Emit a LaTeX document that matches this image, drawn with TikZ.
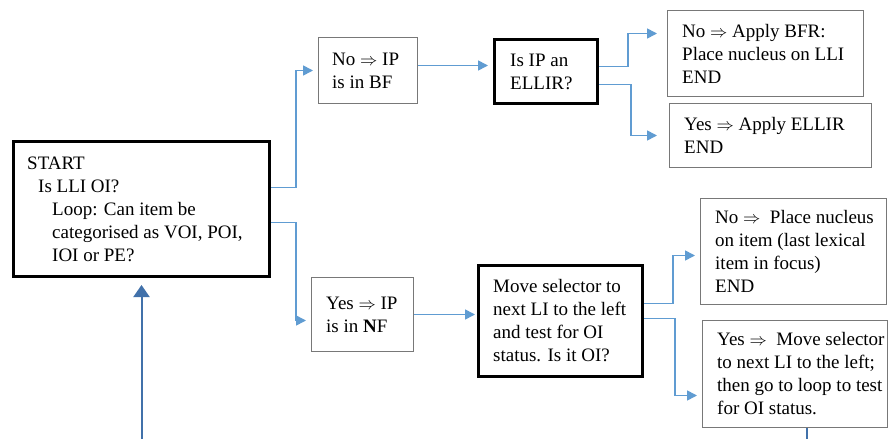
\documentclass[tikz,border=0pt]{standalone}
\usepackage{fontspec}
\setmainfont{LiberationSerif}[Extension=.ttf,UprightFont=*-Regular,BoldFont=*-Bold,ItalicFont=*-Italic,BoldItalicFont=*-BoldItalic]
\usetikzlibrary{arrows.meta}
\definecolor{conncol}{RGB}{96,156,210}
\definecolor{loopcol}{RGB}{65,113,170}
\definecolor{thincol}{RGB}{120,120,120}
\begin{document}
\begin{tikzpicture}[x=1pt,y=-1pt,
  every node/.style={font=\fontsize{19}{23}\selectfont},
  thinbox/.style={draw=thincol,line width=1pt,anchor=north west,inner sep=0pt},
  thickbox/.style={draw=black,line width=3pt,anchor=north west,inner sep=0pt},
  txt/.style={anchor=west,align=left,inner sep=0pt},
  conn/.style={draw=conncol,line width=1.6pt,-{Triangle[width=10pt,length=10pt]},shorten >=5pt},
  loopconn/.style={draw=loopcol,line width=2pt,-{Triangle[width=16pt,length=12pt]},shorten >=7pt}]
\clip (0,0) rectangle (889,439);
\fill[white] (0,0) rectangle (889,439);
% boxes
\node[thickbox,minimum width=256pt,minimum height=135pt] (start) at (12,140) {};
\node[txt] (startt) at ([xshift=15pt]start.west) {START\\\hspace*{11pt}Is LLI OI?\\\hspace*{25pt}Loop: Can item be\\\hspace*{25pt}categorised as VOI, POI,\\\hspace*{25pt}IOI or PE?};
\node[thinbox,minimum width=99pt,minimum height=66pt] (no1) at (318,37) {};
\node[txt] (no1t) at ([xshift=14pt]no1.west) {No $\Rightarrow$ IP\\is in BF};
\node[thickbox,minimum width=103pt,minimum height=64pt] (ellir) at (493,38) {};
\node[txt] (ellirt) at ([xshift=17pt]ellir.west) {Is IP an\\ELLIR?};
\node[thinbox,minimum width=196pt,minimum height=86pt] (bfr) at (667,10) {};
\node[txt] (bfrt) at ([xshift=15pt]bfr.west) {No $\Rightarrow$ Apply BFR:\\Place nucleus on LLI\\END};
\node[thinbox,minimum width=202pt,minimum height=64pt] (yesellir) at (669,103) {};
\node[txt] (yesellirt) at ([xshift=15pt]yesellir.west) {Yes $\Rightarrow$ Apply ELLIR\\END};
\node[thinbox,minimum width=102pt,minimum height=74pt] (yesnf) at (311,277) {};
\node[txt] (yesnft) at ([xshift=15pt]yesnf.west) {Yes $\Rightarrow$ IP\\is in \textbf{N}F};
\node[thickbox,minimum width=164pt,minimum height=111pt] (move) at (477,264) {};
\node[txt] (movet) at ([xshift=16pt]move.west) {Move selector to\\next LI to the left\\and test for OI\\status. Is it OI?};
\node[thinbox,minimum width=186pt,minimum height=106pt] (noplace) at (700,198) {};
\node[txt] (noplacet) at ([xshift=15pt]noplace.west) {No $\Rightarrow$\ \ Place nucleus\\on item (last lexical\\item in focus)\\END};
\node[thinbox,minimum width=185pt,minimum height=107pt] (yesmove) at (702,320) {};
\node[txt] (yesmovet) at ([xshift=15pt]yesmove.west) {Yes $\Rightarrow$\ \ Move selector\\to next LI to the left;\\then go to loop to test\\for OI status.};
% connectors
\coordinate (c1) at ([yshift=5pt]no1.east);
\coordinate (c2) at (yesnf.east);
\draw[conn] ([yshift=21.5pt]start.east) -- ++(25,0) |- (no1.west);
\draw[conn] ([yshift=-13.5pt]start.east) -- ++(25,0) |- ([yshift=-6pt]yesnf.west);
\draw[conn] (c1) -- (c1 -| ellir.west);
\draw[conn,shorten >=10pt] ([yshift=5pt]ellir.east) -- ++(29,0) |- ([yshift=20pt]bfr.west);
\draw[conn,shorten >=12pt] ([yshift=-13pt]ellir.east) -- ++(32,0) |- (yesellir.west);
\draw[conn,shorten >=2pt] (c2) -- (c2 -| move.west);
\draw[conn] ([yshift=17.5pt]move.east) -- ++(29,0) |- ([yshift=-4pt]noplace.west);
\draw[conn] ([yshift=2.5pt]move.east) -- ++(31,0) |- ([yshift=-21.5pt]yesmove.west);
\draw[loopconn] ([xshift=11.5pt]yesmove.south) -- ++(0,30) -| (start.south);
\end{tikzpicture}
\end{document}
